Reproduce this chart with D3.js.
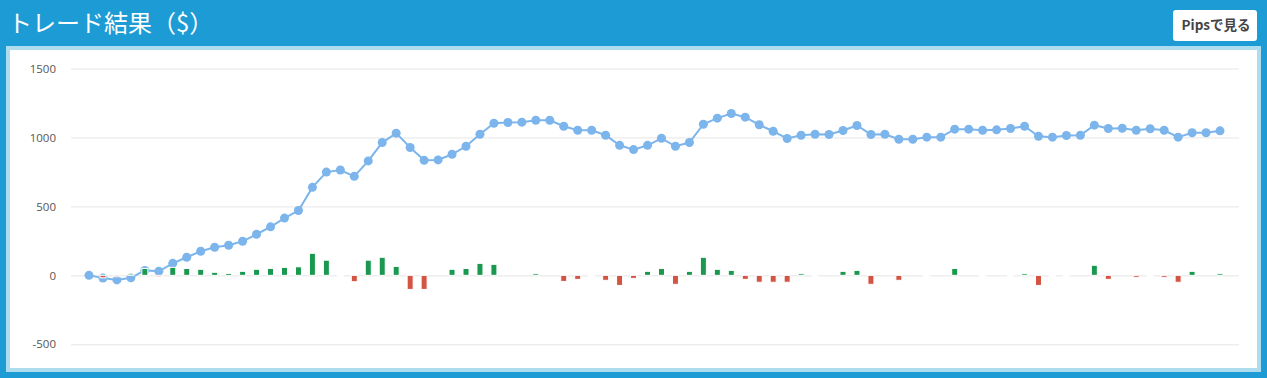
<!DOCTYPE html>
<html>
<head>
<meta charset="utf-8">
<script src="https://cdn.jsdelivr.net/npm/d3@7/dist/d3.min.js"></script>
<style>
  html, body { margin: 0; padding: 0; background: #1d9bd5; }
  body { width: 1267px; height: 378px; overflow: hidden; }
  svg { display: block; }
</style>
</head>
<body>
<div id="chart"></div>
<script>
// cumulative result ($), one per trade day
const cumulative = [
    0, -20, -33, -18, 36, 29, 87, 131, 175, 204,
    218, 247, 298, 352, 415, 470, 638, 749, 764, 718,
    830, 963, 1031, 927, 834, 837, 878, 936, 1023, 1103,
    1108, 1111, 1125, 1125, 1081, 1052, 1052, 1016, 943, 912,
    943, 994, 936, 963, 1096, 1140, 1174, 1147, 1092, 1045,
    992, 1016, 1023, 1021, 1050, 1087, 1021, 1023, 987, 987,
    1002, 1002, 1060, 1060, 1052, 1055, 1065, 1081, 1009, 1002,
    1014, 1016, 1089, 1065, 1067, 1052, 1063, 1052, 1002, 1034,
    1034, 1048
];
// daily result ($); null = no bar
const daily = [
    null, -18, -10, 10, 50, -10, 58, 50, 44, 22,
    14, 29, 44, 50, 58, 62, 160, 110, 0, -46,
    110, 131, 65, -102, -102, null, 44, 50, 87, 80,
    null, null, 12, null, -44, -29, 0, -36, -73, -22,
    29, 50, -65, 29, 131, 44, 36, -29, -50, -50,
    -50, 12, 0, null, 29, 36, -65, null, -36, null,
    0, null, 50, null, 0, null, 0, 12, -73, 0,
    0, null, 73, -29, null, -14, 0, -14, -50, 29,
    null, 12
];
const yTicks = [-500, 0, 500, 1000, 1500];

const W = 1267, H = 378;
const svg = d3.select("#chart").append("svg")
    .attr("width", W).attr("height", H);

// background frame
svg.append("rect").attr("width", W).attr("height", H).attr("fill", "#1d9bd5");
svg.append("rect").attr("x", 6).attr("y", 46).attr("width", 1255).attr("height", 326)
    .attr("fill", "#addcee");
svg.append("rect").attr("x", 10).attr("y", 50).attr("width", 1247).attr("height", 318)
    .attr("fill", "#ffffff");

// title
svg.append("text")
    .attr("x", 8).attr("y", 32)
    .attr("font-family", "'Noto Sans CJK JP', sans-serif")
    .attr("font-size", 24)
    .attr("fill", "#ffffff")
    .text("トレード結果（$）");

// button
const btn = svg.append("g");
btn.append("rect")
    .attr("x", 1173).attr("y", 10).attr("width", 84).attr("height", 31)
    .attr("rx", 3).attr("fill", "#ffffff");
btn.append("text")
    .attr("x", 1216).attr("y", 30)
    .attr("text-anchor", "middle")
    .attr("font-family", "'Noto Sans CJK JP', sans-serif")
    .attr("font-size", 13.5)
    .attr("font-weight", "bold")
    .attr("fill", "#444")
    .text("Pipsで見る");

// scales
const x = d3.scalePoint()
    .domain(d3.range(cumulative.length))
    .range([89, 1220]);
const y = d3.scaleLinear()
    .domain([-500, 1500])
    .range([344.3, 68.5]);

// grid + axis labels
const yAxis = d3.axisLeft(y)
    .tickValues(yTicks)
    .tickSize(-(1239 - 71))
    .tickPadding(15)
    .tickFormat(d => d);
const gAxis = svg.append("g")
    .attr("transform", "translate(71,0)")
    .call(yAxis);
gAxis.select(".domain").remove();
gAxis.selectAll(".tick line").attr("stroke", "#e6e6e6").attr("stroke-width", 1);
gAxis.selectAll(".tick text")
    .attr("fill", "#555")
    .attr("font-family", "'Open Sans', 'DejaVu Sans', sans-serif")
    .attr("font-size", 11.5);

// cumulative line
const line = d3.line()
    .x((d, i) => x(i))
    .y(d => y(d));
svg.append("path")
    .datum(cumulative)
    .attr("d", line)
    .attr("fill", "none")
    .attr("stroke", "#7cb5ec")
    .attr("stroke-width", 2);
svg.append("g").selectAll("circle")
    .data(cumulative)
    .join("circle")
    .attr("cx", (d, i) => x(i))
    .attr("cy", d => y(d))
    .attr("r", 4.5)
    .attr("fill", "#7cb5ec");

// daily bars (drawn on top, white border like the original)
const bw = 6;
const bars = daily.map((v, i) => ({ i, v })).filter(d => d.v !== null);
svg.append("g").selectAll("rect")
    .data(bars)
    .join("rect")
    .attr("x", d => x(d.i) - bw / 2)
    .attr("y", d => d.v === 0 ? y(0) - 1 : y(Math.max(0, d.v)))
    .attr("width", bw)
    .attr("height", d => d.v === 0 ? 2 : Math.abs(y(d.v) - y(0)))
    .attr("fill", d => d.v > 0 ? "#1a9850" : d.v < 0 ? "#d35443" : "#ffffff")
    .attr("stroke", "#ffffff")
    .attr("stroke-width", 1);
</script>
</body>
</html>
